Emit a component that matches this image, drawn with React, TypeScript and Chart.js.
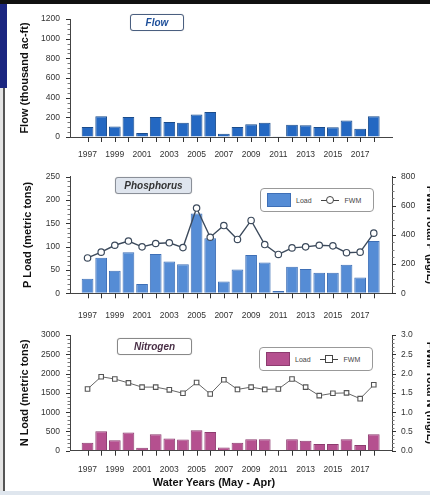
import React, { useEffect, useRef } from 'react';
import { Chart, registerables } from 'chart.js';

Chart.register(...registerables);

const years = [1997, 1998, 1999, 2000, 2001, 2002, 2003, 2004, 2005, 2006, 2007, 2008, 2009, 2010, 2011, 2012, 2013, 2014, 2015, 2016, 2017, 2018];
const flowValues = [102, 210, 108, 203, 41, 203, 153, 146, 230, 254, 34, 102, 129, 146, 7, 125, 119, 102, 98, 169, 85, 210];
const pLoad = [31, 76, 48, 88, 20, 84, 68, 62, 171, 118, 25, 51, 82, 66, 5, 57, 52, 44, 44, 61, 34, 112];
const pFwm = [242, 282, 329, 358, 318, 341, 346, 313, 584, 384, 464, 369, 499, 334, 266, 311, 318, 329, 325, 278, 282, 412];
const nLoad = [206, 506, 274, 471, 77, 428, 317, 291, 531, 488, 86, 206, 300, 300, 17, 300, 257, 171, 171, 300, 146, 428];
const nFwm = [1.6, 1.92, 1.86, 1.76, 1.65, 1.65, 1.58, 1.49, 1.77, 1.47, 1.84, 1.59, 1.65, 1.59, 1.6, 1.86, 1.65, 1.43, 1.49, 1.5, 1.35, 1.71];

const flowTicks = { max: 1200, minor: 50, major: 200 };
const pLeftTicks = { max: 250, minor: 10, major: 50 };
const pRightTicks = { max: 800, minor: 50, major: 200 };
const nLeftTicks = { max: 3000, minor: 100, major: 500 };
const nRightTicks = { max: 3.0, minor: 0.1, major: 0.5 };

const FONT = "'Liberation Sans', Arial, sans-serif";
const AXIS = '#444';

const pts = (vals: number[]) => vals.map((v, i) => ({ x: years[i], y: v }));

// draws the small outward tick marks (major and minor) on every axis
const tickMarks = {
  id: 'tickMarks',
  afterDraw(chart: any) {
    const ctx = chart.ctx;
    ctx.save();
    ctx.lineWidth = 1;
    Object.values(chart.scales).forEach((s: any) => {
      s.ticks.forEach((t: any) => {
        const p = Math.round(s.getPixelForValue(t.value)) + 0.5;
        ctx.strokeStyle = t.major === false ? '#777' : '#333';
        ctx.beginPath();
        if (s.axis === 'x') {
          ctx.moveTo(p, s.top);
          ctx.lineTo(p, s.top + 5);
        } else {
          const len = t.major === false ? 2.5 : 4;
          if (s.position === 'left') {
            ctx.moveTo(s.right - len, p);
            ctx.lineTo(s.right, p);
          } else {
            ctx.moveTo(s.left, p);
            ctx.lineTo(s.left + len, p);
          }
        }
        ctx.stroke();
      });
    });
    ctx.restore();
  },
};

function yScale(t: { max: number; minor: number; major: number }, opts: any) {
  const n = Math.round(t.max / t.minor);
  const ratio = Math.round(t.major / t.minor);
  const decimals = t.major < 1 ? 1 : 0;
  return {
    type: 'linear',
    position: opts.position,
    min: 0,
    max: t.max,
    afterBuildTicks: (s: any) => {
      const arr = [];
      for (let i = 0; i <= n; i++) arr.push({ value: +(i * t.minor).toFixed(4), major: i % ratio === 0 });
      s.ticks = arr;
    },
    afterFit: (s: any) => { s.width = opts.width; },
    border: { display: true, color: AXIS, width: 1 },
    grid: { display: true, drawOnChartArea: false, drawTicks: true, tickLength: 4, tickColor: 'rgba(0,0,0,0)' },
    ticks: {
      autoSkip: false,
      padding: opts.tickPad,
      color: '#333',
      font: { family: FONT, size: 8.5 },
      callback: (v: number, i: number) => (i % ratio === 0 ? v.toFixed(decimals) : ''),
    },
    title: {
      display: true,
      text: opts.title,
      color: '#111',
      font: { family: FONT, size: 11, weight: 'bold' },
      padding: { top: opts.titlePad, bottom: 0 },
    },
  };
}

function xScale(height: number, tickPad: number) {
  return {
    type: 'linear',
    min: 1996.25,
    max: 2018.8,
    afterBuildTicks: (s: any) => { s.ticks = years.map((y) => ({ value: y })); },
    afterFit: (s: any) => { s.height = height; },
    border: { display: true, color: AXIS, width: 1 },
    grid: { display: true, drawOnChartArea: false, drawTicks: true, tickLength: 5, tickColor: 'rgba(0,0,0,0)' },
    ticks: {
      autoSkip: false,
      maxRotation: 0,
      padding: tickPad,
      color: '#333',
      font: { family: FONT, size: 8.5 },
      callback: (v: number) => (v % 2 === 1 ? String(v) : ''),
    },
  };
}

function useChart(ref: React.RefObject<HTMLCanvasElement>, build: () => any) {
  useEffect(() => {
    if (!ref.current) return;
    const chart = new Chart(ref.current, build());
    return () => chart.destroy();
  }, []);
}

const base = {
  responsive: false,
  animation: false,
  devicePixelRatio: 1,
  plugins: { legend: { display: false }, tooltip: { enabled: false } },
};

const W = 438;

function TitleBox(props: { left: number; top: number; width: number; text: string; color: string; bg: string; border: string }) {
  return (
    <div
      style={{
        position: 'absolute', left: props.left, top: props.top, width: props.width, height: 15,
        border: `1px solid ${props.border}`, borderRadius: 3, background: props.bg,
        boxShadow: '0 0 1px rgba(0,0,0,0.3)',
        font: `italic bold 10px ${FONT}`, color: props.color, textAlign: 'center', lineHeight: '15px',
      }}
    >
      {props.text}
    </div>
  );
}

function Legend(props: { left: number; top: number; fill: string; stroke: string; square: boolean }) {
  return (
    <div
      style={{
        position: 'absolute', left: props.left, top: props.top, width: 112, height: 22,
        border: '1px solid #999', borderRadius: 4, background: '#fff',
        font: `7px ${FONT}`, color: '#444', display: 'flex', alignItems: 'center',
      }}
    >
      <div style={{ width: 22, height: 12, marginLeft: 6, background: props.fill, border: `1px solid ${props.stroke}` }} />
      <span style={{ marginLeft: 5 }}>Load</span>
      <div style={{ position: 'relative', width: 18, height: 10, marginLeft: 9 }}>
        <div style={{ position: 'absolute', left: 0, right: 0, top: 4.5, height: 1.2, background: '#444' }} />
        <div
          style={{
            position: 'absolute', left: 5, top: 1, width: 6, height: 6, background: '#fff',
            border: '1.3px solid #444', borderRadius: props.square ? 0 : 4,
          }}
        />
      </div>
      <span style={{ marginLeft: 6 }}>FWM</span>
    </div>
  );
}

export default function App() {
  const c1 = useRef<HTMLCanvasElement>(null);
  const c2 = useRef<HTMLCanvasElement>(null);
  const c3 = useRef<HTMLCanvasElement>(null);

  useEffect(() => {
    document.body.style.margin = '0';
    document.body.style.overflow = 'hidden';
  }, []);

  useChart(c1, () => ({
    type: 'bar',
    plugins: [tickMarks],
    data: {
      datasets: [
        {
          data: pts(flowValues),
          backgroundColor: '#2468c2',
          borderColor: '#1a4c8c',
          borderWidth: 1,
          barPercentage: 0.86,
          categoryPercentage: 1,
        },
      ],
    },
    options: {
      ...base,
      layout: { padding: { left: 8, top: 19, right: 46, bottom: 0 } },
      scales: {
        x: xScale(25, 8),
        y: yScale(flowTicks, { position: 'left', width: 62, tickPad: 6, title: 'Flow (thousand ac-ft)', titlePad: 10 }),
      },
    },
  }));

  useChart(c2, () => ({
    type: 'bar',
    plugins: [tickMarks],
    data: {
      datasets: [
        {
          type: 'line',
          data: pts(pFwm),
          yAxisID: 'y1',
          order: 0,
          borderColor: '#3c4a5c',
          borderWidth: 1.4,
          pointStyle: 'circle',
          pointRadius: 3.2,
          pointBackgroundColor: '#fff',
          pointBorderColor: '#3c4a5c',
          pointBorderWidth: 1.2,
          tension: 0,
        },
        {
          type: 'bar',
          data: pts(pLoad),
          yAxisID: 'y',
          order: 1,
          backgroundColor: '#558cd5',
          borderColor: '#3e6fb6',
          borderWidth: 1,
          barPercentage: 0.86,
          categoryPercentage: 1,
        },
      ],
    },
    options: {
      ...base,
      layout: { padding: { left: 8, top: 14.5, right: 0, bottom: 0.7 } },
      scales: {
        x: xScale(30, 12),
        y: yScale(pLeftTicks, { position: 'left', width: 62, tickPad: 6, title: 'P Load (metric tons)', titlePad: 13 }),
        y1: yScale(pRightTicks, { position: 'right', width: 46, tickPad: 5, title: 'FWM Total P (µg/L)', titlePad: 1 }),
      },
    },
  }));

  useChart(c3, () => ({
    type: 'bar',
    plugins: [tickMarks],
    data: {
      datasets: [
        {
          type: 'line',
          data: pts(nFwm),
          yAxisID: 'y1',
          order: 0,
          borderColor: '#666',
          borderWidth: 1,
          pointStyle: 'rect',
          pointRadius: 3.2,
          pointBackgroundColor: '#fff',
          pointBorderColor: '#555',
          pointBorderWidth: 1.1,
          tension: 0,
        },
        {
          type: 'bar',
          data: pts(nLoad),
          yAxisID: 'y',
          order: 1,
          backgroundColor: '#b5508f',
          borderColor: '#8d3b6f',
          borderWidth: 1,
          barPercentage: 0.86,
          categoryPercentage: 1,
        },
      ],
    },
    options: {
      ...base,
      layout: { padding: { left: 8, top: 10, right: 0, bottom: 0.3 } },
      scales: {
        x: xScale(44, 8.5),
        y: yScale(nLeftTicks, { position: 'left', width: 62, tickPad: 6, title: 'N Load (metric tons)', titlePad: 10 }),
        y1: yScale(nRightTicks, { position: 'right', width: 46, tickPad: 5, title: 'FWM Total N (mg/L)', titlePad: 1 }),
      },
    },
  }));

  return (
    <div style={{ position: 'fixed', left: 0, top: 0, width: 430, height: 495, overflow: 'hidden', background: '#fff' }}>
      <div style={{ position: 'absolute', left: 0, top: 0, width: 430, height: 4, background: '#111' }} />
      <div style={{ position: 'absolute', left: 0, top: 4, width: 7, height: 84, background: '#1b2680' }} />
      <div style={{ position: 'absolute', left: 0, top: 88, width: 3, height: 407, background: '#e4e4e4' }} />
      <div style={{ position: 'absolute', left: 3, top: 88, width: 2, height: 407, background: '#555' }} />
      <div style={{ position: 'absolute', left: 0, top: 491, width: 430, height: 4, background: '#dfe6ee' }} />

      <canvas ref={c1} width={W} height={162} style={{ position: 'absolute', left: 0, top: 0 }} />
      <canvas ref={c2} width={W} height={162} style={{ position: 'absolute', left: 0, top: 162 }} />
      <canvas ref={c3} width={W} height={171} style={{ position: 'absolute', left: 0, top: 324 }} />

      <TitleBox left={130} top={14} width={52} text="Flow" color="#1e4f9a" bg="#fff" border="#4a5f80" />
      <TitleBox left={115} top={177} width={75} text="Phosphorus" color="#333" bg="#dfe5ee" border="#8a8f98" />
      <TitleBox left={117} top={338} width={73} text="Nitrogen" color="#4a3047" bg="#fff" border="#888" />

      <Legend left={260} top={188} fill="#558cd5" stroke="#3e6fb6" square={false} />
      <Legend left={259} top={347} fill="#b5508f" stroke="#8d3b6f" square={true} />

      <div
        style={{
          position: 'absolute', left: 0, width: 430, top: 476, textAlign: 'center',
          font: `bold 11px ${FONT}`, color: '#111',
        }}
      >
        <span style={{ position: 'relative', left: -1 }}>Water Years (May - Apr)</span>
      </div>
    </div>
  );
}
